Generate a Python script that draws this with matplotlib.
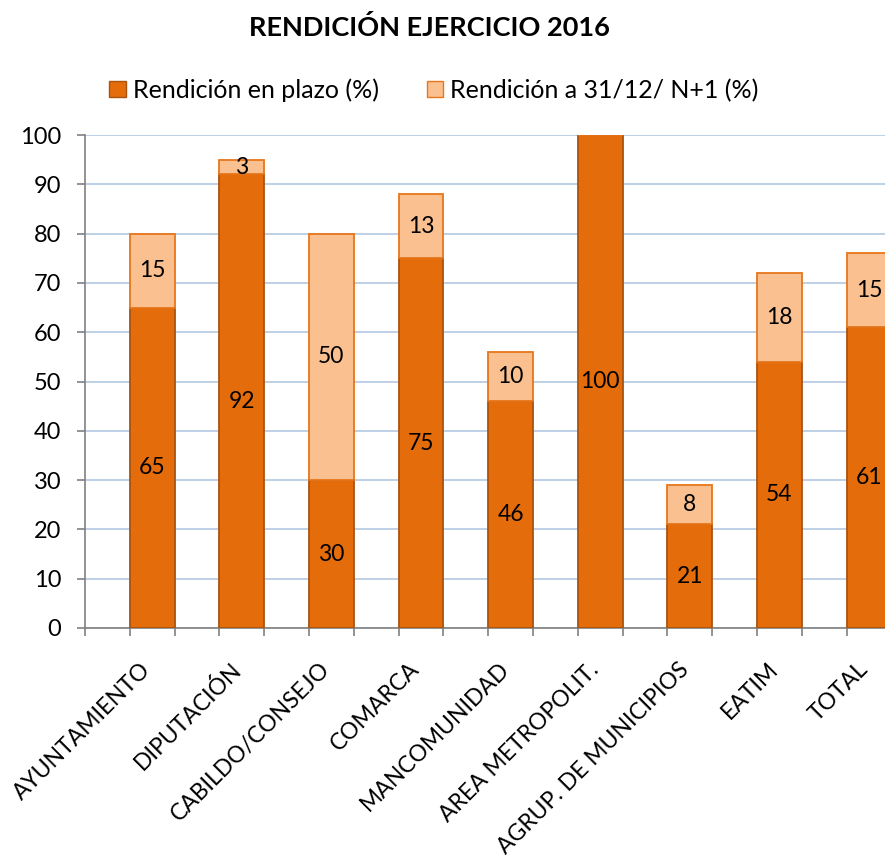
import matplotlib
matplotlib.use("Agg")
import matplotlib.pyplot as plt
from matplotlib.patches import Patch
import matplotlib.transforms as mtransforms
import numpy as np

categories = ["AYUNTAMIENTO", "DIPUTACIÓN", "CABILDO/CONSEJO", "COMARCA", "MANCOMUNIDAD",
              "AREA METROPOLIT.", "AGRUP. DE MUNICIPIOS", "EATIM", "TOTAL"]
en_plazo = [65, 92, 30, 75, 46, 100, 21, 54, 61]
a_31_12 = [15, 3, 50, 13, 10, 0, 8, 18, 15]
series_names = ["Rendición en plazo (%)", "Rendición a 31/12/ N+1 (%)"]
title = "RENDICIÓN EJERCICIO 2016"

plt.rcParams['font.family'] = ['Lato', 'DejaVu Sans']

W, H = 885, 858
fig = plt.figure(figsize=(W / 100, H / 100), dpi=100)
x0, x1 = 85, 85 + 9.5 * 89.6
y0, y1 = 628, 135
ax = fig.add_axes([x0 / W, (H - y0) / H, (x1 - x0) / W, (y0 - y1) / H])

dark, dark_edge = '#E46C0A', '#A9530F'
light, light_edge = '#FAC090', '#E8761A'

x = np.arange(len(categories))
bw = 0.5
ax.bar(x, en_plazo, width=bw, color=dark, edgecolor=dark_edge, linewidth=1.3, zorder=3)
ax.bar(x, a_31_12, width=bw, bottom=en_plazo, color=light, edgecolor=light_edge, linewidth=1.3, zorder=3)

for xi, a, b in zip(x, en_plazo, a_31_12):
    if a > 0:
        ax.text(xi, a / 2, f"{a}", ha='center', va='center', fontsize=16.5, color='black', zorder=4)
    if b > 0:
        ax.text(xi, a + b / 2, f"{b}", ha='center', va='center', fontsize=16.5, color='black', zorder=4)

ax.set_xlim(-0.75, 8.75)
ax.set_ylim(0, 100)
ax.set_yticks(np.arange(0, 101, 10))
ax.tick_params(axis='y', labelsize=17, length=6, color='#808080', width=1.2, pad=11, direction='out')
ax.yaxis.grid(True, color='#B9CDE5', linewidth=1.3, zorder=0)
ax.set_axisbelow(True)

ax.set_xticks(np.arange(-0.75, 8.76, 0.5))
ax.set_xticklabels([])
ax.tick_params(axis='x', length=6, color='#808080', width=1.2, direction='out')
ax.set_xticks(x, minor=True)
ax.set_xticklabels(categories, minor=True, rotation=45, ha='right', va='top',
                   rotation_mode='anchor', fontsize=16.5)
ax.tick_params(axis='x', which='minor', length=0, pad=22)
offset = mtransforms.ScaledTranslation(-12 / 100, 0, fig.dpi_scale_trans)
for lbl in ax.get_xticklabels(minor=True):
    lbl.set_transform(lbl.get_transform() + offset)

for s in ['top', 'right']:
    ax.spines[s].set_visible(False)
for s in ['left', 'bottom']:
    ax.spines[s].set_color('#808080')
    ax.spines[s].set_linewidth(1.2)

fig.text(429 / W, 1 - 28 / H, title, ha='center', va='center', fontsize=19.5, fontweight='bold')

handles = [Patch(facecolor=dark, edgecolor=dark_edge), Patch(facecolor=light, edgecolor=light_edge)]
fig.legend(handles, series_names, loc='center', bbox_to_anchor=(434 / W, 1 - 90 / H), ncol=2,
           frameon=False, fontsize=18, handlelength=0.65, handleheight=0.65, handletextpad=0.3,
           columnspacing=1.9)

fig.savefig("out.png", dpi=100)
